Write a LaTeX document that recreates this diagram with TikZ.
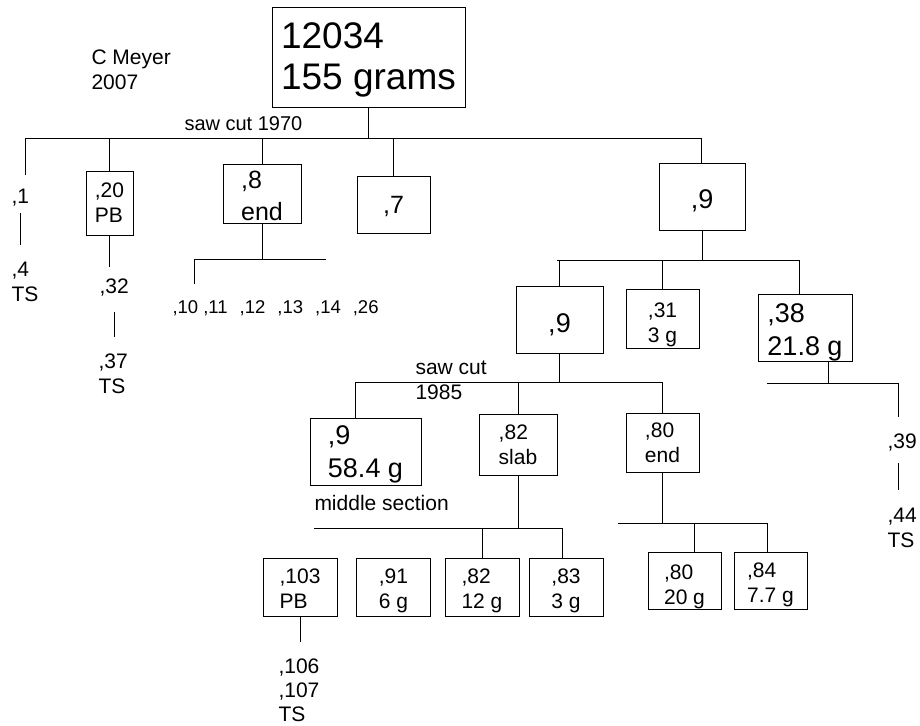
\documentclass[tikz,border=0pt]{standalone}
\usepackage{fontspec}
\setmainfont{Liberation Sans}
\usepackage{tikz}
\usetikzlibrary{calc}
\newcommand\sgap{\hspace{12pt}}

\begin{document}
\begin{tikzpicture}[x=1pt, y=-1pt, line width=1pt,
   cell/.style={draw, inner sep=0pt, align=left},
   lbl/.style={inner sep=0pt, anchor=base west, align=left},
   fbig/.style={font=\fontsize{37}{41}\selectfont},
   fmid/.style={font=\fontsize{27}{33}\selectfont},
   fmed/.style={font=\fontsize{25}{32}\selectfont},
   fsml/.style={font=\fontsize{21}{25}\selectfont},
   ftny/.style={font=\fontsize{18.5}{22}\selectfont}]
  \useasboundingbox (0,0) rectangle (920,725);
  % boxes
  \node[cell, fbig, minimum width=193pt, text height=81pt, text depth=18pt] (top) at (368.5,57.5) {12034\\155 grams};
  \node[cell, fsml, minimum width=47pt, text height=51pt, text depth=13pt] (b20) at (109.5,203) {,20\\PB};
  \node[cell, fmed, minimum width=78pt, text height=56pt, text depth=3pt] (b8) at (262,193.5) {,8\\end};
  \node[cell, fmed, minimum width=73pt, text height=37pt, text depth=20pt] (b7) at (393.5,204.5) {,7};
  \node[cell, fmid, minimum width=86pt, text height=45pt, text depth=22pt] (b9a) at (702,196.5) {,9};
  \node[cell, fmid, minimum width=87pt, text height=46pt, text depth=21pt] (b9b) at (559.5,319.5) {,9};
  \node[cell, fsml, minimum width=73pt, text height=53pt, text depth=6pt] (b31) at (662.5,318.5) {,31\\3 g};
  \node[cell, fmid, minimum width=94pt, text height=61pt, text depth=6pt] (b38) at (805,327.5) {,38\\21.8 g};
  \node[cell, fmid, minimum width=111pt, text height=59pt, text depth=8pt] (b9c) at (365.5,451.5) {,9\\58.4 g};
  \node[cell, fsml, minimum width=78pt, text height=50pt, text depth=11pt] (b82) at (518,444.5) {,82\\slab};
  \node[cell, fsml, minimum width=73pt, text height=49pt, text depth=10pt] (b80) at (662.5,442.5) {,80\\end};
  \foreach \n/\x/\txt in {b103/300/{,103\\PB}, b91/393.5/{,91\\6 g}, b82b/482/{,82\\12 g}, b83/566/{,83\\3 g}}
    \node[cell, fsml, minimum width=74pt, text height=50pt, text depth=8pt] (\n) at (\x,587) {\txt};
  \node[cell, fsml, minimum width=73pt, text height=52pt, text depth=5pt] (b80b) at (684.5,580.5) {,80\\20 g};
  \node[cell, fsml, minimum width=73pt, text height=50pt, text depth=7pt] (b84) at (770.5,580.5) {,84\\7.7 g};
  % loose labels
  \node[lbl, fsml] (meyer) at (91,89) {C Meyer\\2007};
  \node[lbl, font=\fontsize{20}{24}\selectfont] (cut70) at (184,130) {saw cut 1970};
  \node[lbl, fsml] (p1) at (11,203) {,1};
  \node[lbl, fsml] (p4) at (11,301) {,4\\TS};
  \node[lbl, fsml] (p32) at (99,293) {,32};
  \node[lbl, fsml] (p37) at (98,393) {,37\\TS};
  \node[lbl, ftny] (p10) at (172,313) {,10 ,11\sgap,12\sgap,13\sgap,14\sgap,26};
  \node[lbl, fsml] (cut85) at (415,399) {saw cut\\1985};
  \node[lbl, fsml] (midsec) at (314,510) {middle section};
  \node[lbl, fsml] (p39) at (887,448) {,39};
  \node[lbl, fsml] (p44) at (887,547) {,44\\TS};
  \node[lbl, fsml, font=\fontsize{21}{24}\selectfont] (p106) at (278,721) {,106\\,107\\TS};
  % saw cut 1970
  \coordinate (bus70w) at (25,138);
  \coordinate (bus70e) at (701,138);
  \draw (bus70w) -- (bus70e);
  \draw (top.south) -- (top.south |- bus70w);
  \draw[shorten >=13pt] (bus70w) -- (bus70w |- p1.north);
  \foreach \b in {b20, b8, b7} \draw (\b.north) -- (\b.north |- bus70w);
  \draw (bus70e) -- (bus70e |- b9a.north);
  \draw[shorten <=7pt, shorten >=16pt] (p1.south) -- (p1.south |- p4.north);
  \draw[shorten >=11pt] (b20.south) -- (b20.south |- p32.north);
  \draw[shorten <=16pt, shorten >=16pt] (p32.south) -- (p32.south |- p37.north);
  % ,8 end
  \coordinate (bus8w) at (194,259);
  \coordinate (bus8e) at (326,259);
  \draw (bus8w) -- (bus8e);
  \draw (b8.south) -- (b8.south |- bus8w);
  \draw[shorten >=16pt] (bus8w) -- (bus8w |- p10.north);
  % ,9
  \coordinate (bus9w) at (557,260);
  \coordinate (bus9e) at (799,260);
  \draw (bus9w) -- (bus9e);
  \draw (b9a.south) -- (b9a.south |- bus9w);
  \foreach \b in {b9b, b31} \draw (\b.north) -- (\b.north |- bus9w);
  \draw (bus9e) -- (bus9e |- b38.north);
  % saw cut 1985
  \coordinate (bus85w) at (355,382);
  \coordinate (bus85e) at (662,382);
  \draw (bus85w) -- (bus85e);
  \draw (b9b.south) -- (b9b.south |- bus85w);
  \draw (bus85w) -- (bus85w |- b9c.north);
  \draw (b82.north) -- (b82.north |- bus85w);
  \draw (bus85e) -- (bus85e |- b80.north);
  % ,38
  \coordinate (bus38w) at (767,383);
  \coordinate (bus38e) at (898,383);
  \coordinate (j38) at (828,383);
  \draw (bus38w) -- (bus38e);
  \draw (b38.south -| j38) -- (j38);
  \draw[shorten >=16pt] (bus38e) -- (bus38e |- p39.north);
  \draw[shorten <=12pt, shorten >=17pt] (p39.south -| bus38e) -- (bus38e |- p44.north);
  % ,82 slab
  \coordinate (bus82w) at (314,528);
  \coordinate (bus82e) at (562,528);
  \draw (bus82w) -- (bus82e);
  \draw (b82.south) -- (b82.south |- bus82w);
  \draw (b82b.north) -- (b82b.north |- bus82w);
  \draw (bus82e) -- (bus82e |- b83.north);
  % ,80 end
  \coordinate (bus80w) at (618,523);
  \coordinate (bus80e) at (767,523);
  \coordinate (j80) at (694,523);
  \draw (bus80w) -- (bus80e);
  \draw (b80.south) -- (b80.south |- bus80w);
  \draw (j80) -- (j80 |- b80b.north);
  \draw (bus80e) -- (bus80e |- b84.north);
  % ,103 PB
  \draw[shorten >=16pt] (b103.south) -- (b103.south |- p106.north);
\end{tikzpicture}
\end{document}
